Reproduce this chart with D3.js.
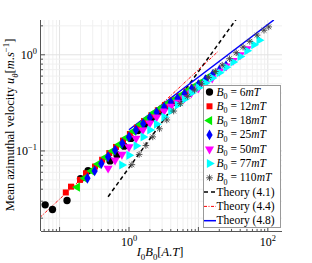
<!DOCTYPE html>
<html>
<head>
<meta charset="utf-8">
<script src="https://cdn.jsdelivr.net/npm/d3@7"></script>
<style>
  body { margin: 0; background: #fff; }
  text { font-family: "Liberation Serif", "DejaVu Serif", serif; fill: #000; }
</style>
</head>
<body>
<svg id="chart" width="312" height="263"></svg>
<script>
// I0*B0 [A.T] and mean azimuthal velocity [m/s]
const b6x = [0.062, 0.079, 0.128, 0.2, 0.257, 0.533, 0.672, 0.85, 1.07, 1.35, 1.7, 2.15, 2.7, 3.4, 4.3, 5.4];
const b6y = [0.0275, 0.0246, 0.0305, 0.0515, 0.0624, 0.0788, 0.0909, 0.112, 0.135, 0.163, 0.19, 0.22, 0.255, 0.29, 0.32, 0.35];
const b12x = [0.123, 0.146, 0.197, 0.24, 0.324, 0.41, 0.52, 0.65, 0.82, 1.03, 1.3, 1.65, 2.1, 2.6, 3.3, 4.2, 5.3, 6.7, 8.5, 10.8];
const b12y = [0.037, 0.0425, 0.05, 0.0586, 0.0688, 0.081, 0.095, 0.11, 0.128, 0.15, 0.175, 0.205, 0.235, 0.265, 0.3, 0.335, 0.37, 0.415, 0.46, 0.51];
const b18x = [0.18, 0.23, 0.29, 0.36, 0.46, 0.58, 0.73, 0.92, 1.16, 1.46, 1.84, 2.3, 2.9, 3.7, 4.6, 5.8, 7.3, 9.2, 11.6, 14.6, 18.4];
const b18y = [0.042, 0.052, 0.062, 0.073, 0.086, 0.1, 0.117, 0.137, 0.16, 0.188, 0.218, 0.25, 0.28, 0.315, 0.345, 0.385, 0.43, 0.48, 0.53, 0.6, 0.67];
const b25x = [0.252, 0.32, 0.4, 0.5, 0.63, 0.8, 1.0, 1.26, 1.6, 2.0, 2.5, 3.2, 4.0, 5.0, 6.3, 8.0, 10, 12.6, 16, 20, 25];
const b25y = [0.052, 0.062, 0.074, 0.087, 0.102, 0.12, 0.14, 0.165, 0.192, 0.222, 0.252, 0.285, 0.32, 0.352, 0.392, 0.44, 0.49, 0.55, 0.62, 0.69, 0.77];
const b50x = [0.5, 0.63, 0.79, 1.0, 1.26, 1.58, 2.0, 2.5, 3.2, 4.0, 5.0, 6.3, 7.9, 10, 12.6, 15.8, 20, 25, 31.6, 40, 50];
const b50y = [0.066, 0.08, 0.092, 0.11, 0.135, 0.165, 0.195, 0.225, 0.26, 0.29, 0.32, 0.355, 0.4, 0.45, 0.5, 0.57, 0.67, 0.76, 0.87, 1.0, 1.15];
const b77x = [0.79, 1.0, 1.27, 1.6, 2.0, 2.5, 3.2, 4.0, 5.0, 6.3, 7.9, 10, 12.6, 15.8, 20, 25, 31.6, 40, 50, 63, 75];
const b77y = [0.0715, 0.09, 0.113, 0.14, 0.165, 0.19, 0.225, 0.26, 0.3, 0.345, 0.4, 0.455, 0.51, 0.575, 0.65, 0.74, 0.84, 0.96, 1.1, 1.27, 1.42];
const b110x = [1.1, 1.4, 1.75, 2.2, 2.75, 3.5, 4.4, 5.5, 7.0, 8.8, 11, 14, 17.5, 22, 28, 35, 44, 55, 70, 88, 103];
const b110y = [0.072, 0.092, 0.114, 0.14, 0.17, 0.21, 0.26, 0.31, 0.37, 0.43, 0.5, 0.58, 0.67, 0.78, 0.91, 1.05, 1.2, 1.38, 1.6, 1.8, 1.95];

// theory curves (end points of straight lines in log-log)
const th41x = [0.5, 35];   const th41y = [0.0334, 2.34];
const th44x = [0.0524, 19.1]; const th44y = [0.0204, 1.08];
const th48x = [1.0, 122];  const th48y = [0.166, 2.3];

const fields = ["6", "12", "18", "25", "50", "77", "110"];
const theoryLabels = ["4.1", "4.4", "4.8"];

const svg = d3.select("#chart");
const L = 41, R = 282, T = 20, B = 231;
const x = d3.scaleLog().domain([0.054, 160]).range([L, R]);
const y = d3.scaleLog().domain([0.0147, 2.3]).range([B, T]);

const isMajor = v => Math.abs(Math.log10(v) - Math.round(Math.log10(v))) < 1e-6;

//grid
const gx = x.ticks(), gy = y.ticks();
svg.append("g").selectAll("line").data(gx).join("line")
  .attr("x1", d => x(d)).attr("x2", d => x(d)).attr("y1", T).attr("y2", B)
  .attr("stroke", d => isMajor(d) ? "#e2e2e2" : "#f0f0f0").attr("stroke-width", 1);
svg.append("g").selectAll("line").data(gy).join("line")
  .attr("y1", d => y(d)).attr("y2", d => y(d)).attr("x1", L).attr("x2", R)
  .attr("stroke", d => isMajor(d) ? "#e2e2e2" : "#f0f0f0").attr("stroke-width", 1);

svg.append("clipPath").attr("id", "clip").append("rect")
  .attr("x", L).attr("y", T).attr("width", R - L).attr("height", B - T);
const plot = svg.append("g").attr("clip-path", "url(#clip)");

// theory lines
const line = d3.line().x(d => x(d[0])).y(d => y(d[1]));
const theory = [
  { xs: th41x, ys: th41y, color: "#000", width: 1.5, dash: "4,3" },
  { xs: th44x, ys: th44y, color: "#ff0000", width: 1, dash: "3,1.5,1,1.5" },
  { xs: th48x, ys: th48y, color: "#0000ff", width: 1.5, dash: null }
];
theory.forEach(t => {
  plot.append("path")
    .attr("d", line(d3.zip(t.xs, t.ys)))
    .attr("fill", "none").attr("stroke", t.color)
    .attr("stroke-width", t.width).attr("stroke-dasharray", t.dash);
});

// markers
const asterisk = "M0,-3.3V3.3M-3.3,0H3.3M-2.4,-2.4L2.4,2.4M-2.4,2.4L2.4,-2.4";
const series = [
  { xs: b6x, ys: b6y, color: "#000", sym: d3.symbolCircle, size: 42, rot: 0 },
  { xs: b12x, ys: b12y, color: "#ff0000", sym: d3.symbolSquare, size: 36, rot: 0 },
  { xs: b18x, ys: b18y, color: "#00ee00", sym: d3.symbolTriangle, size: 36, rot: -90 },
  { xs: b25x, ys: b25y, color: "#0000ff", sym: d3.symbolDiamond, size: 34, rot: 0 },
  { xs: b50x, ys: b50y, color: "#ff00ff", sym: d3.symbolTriangle, size: 36, rot: 180 },
  { xs: b77x, ys: b77y, color: "#00ffff", sym: d3.symbolTriangle, size: 36, rot: 90 },
  { xs: b110x, ys: b110y, color: "#444", sym: null, size: 0, rot: 0 }
];

function marker(g, s, cx, cy) {
  if (s.sym) {
    g.append("path")
      .attr("d", d3.symbol(s.sym, s.size)())
      .attr("transform", `translate(${cx},${cy}) rotate(${s.rot})`)
      .attr("fill", s.color);
  } else {
    g.append("path")
      .attr("d", asterisk)
      .attr("transform", `translate(${cx},${cy})`)
      .attr("fill", "none").attr("stroke", s.color).attr("stroke-width", 0.9);
  }
}

series.forEach(s => {
  const g = plot.append("g");
  s.xs.forEach((v, i) => marker(g, s, x(v), y(s.ys[i])));
});

// axes
const axis = svg.append("g").attr("stroke", "#555").attr("stroke-width", 1);
axis.append("line").attr("x1", L).attr("x2", R).attr("y1", B + 0.5).attr("y2", B + 0.5);
axis.append("line").attr("x1", L - 0.5).attr("x2", L - 0.5).attr("y1", T).attr("y2", B);
gx.forEach(d => {
  const len = isMajor(d) ? 4 : 2;
  axis.append("line").attr("x1", x(d)).attr("x2", x(d)).attr("y1", B).attr("y2", B - len);
});
gy.forEach(d => {
  const len = isMajor(d) ? 4 : 2;
  axis.append("line").attr("y1", y(d)).attr("y2", y(d)).attr("x1", L).attr("x2", L + len);
});

// rich text helper: parts = [text, style] with style: i (italic), sub, sup
function rich(sel, parts, size) {
  let shift = 0;
  parts.forEach(([t, st]) => {
    const ts = sel.append("tspan").text(t);
    let target = 0, fs = size;
    if (st && st.includes("sub")) { target = size * 0.28; fs = size * 0.7; }
    if (st && st.includes("sup")) { target = -size * 0.4; fs = size * 0.7; }
    ts.attr("dy", target - shift).attr("font-size", fs);
    if (st && st.includes("i")) ts.attr("font-style", "italic");
    shift = target;
  });
}

// tick labels
[[1, "0"], [100, "2"]].forEach(([v, e]) => {
  const t = svg.append("text").attr("x", x(v)).attr("y", B + 15).attr("text-anchor", "middle");
  rich(t, [["10"], [e, "sup"]], 12);
});
[[1, "0"], [0.1, "\u22121"]].forEach(([v, e]) => {
  const t = svg.append("text").attr("x", L - 4).attr("y", y(v) + 4).attr("text-anchor", "end");
  rich(t, [["10"], [e, "sup"]], 12);
});

// axis labels
const xl = svg.append("text").attr("x", 160).attr("y", 256).attr("text-anchor", "middle");
rich(xl, [["I", "i"], ["0", "sub"], ["B", "i"], ["0", "sub"], ["["], ["A", "i"], ["."], ["T", "i"], ["]"]], 12.5);

const yl = svg.append("text").attr("transform", "translate(14,125) rotate(-90)").attr("text-anchor", "middle");
rich(yl, [["Mean azimuthal velocity "], ["u", "i"], ["\u03b8", "i sub"], ["["], ["m", "i"], ["."], ["s", "i"], ["\u22121", "sup"], ["]"]], 12.5);

// legend
const lg = svg.append("g");
lg.append("rect").attr("x", 203.5).attr("y", 85.5).attr("width", 77).attr("height", 142)
  .attr("fill", "#fff").attr("stroke", "#999").attr("stroke-width", 1);
const rowY = i => 92 + i * 14.3;
series.forEach((s, i) => {
  marker(lg, s, 209.5, rowY(i));
  const t = lg.append("text").attr("x", 216.5).attr("y", rowY(i) + 3.5);
  rich(t, [["B", "i"], ["0", "sub"], [" = " + fields[i]], ["mT", "i"]], 11.5);
});
theory.forEach((th, j) => {
  const i = series.length + j;
  lg.append("line").attr("x1", 204).attr("x2", 216).attr("y1", rowY(i)).attr("y2", rowY(i))
    .attr("stroke", th.color).attr("stroke-width", th.width).attr("stroke-dasharray", th.dash);
  lg.append("text").attr("x", 216.5).attr("y", rowY(i) + 3.5).attr("font-size", 11.5)
    .text("Theory (" + theoryLabels[j] + ")");
});
</script>
</body>
</html>
